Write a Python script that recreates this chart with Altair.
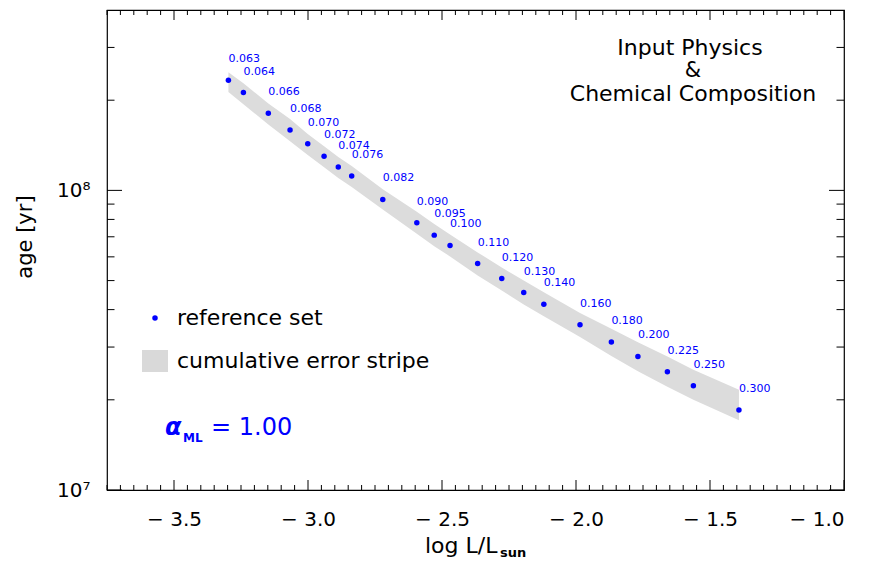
import altair as alt
import pandas as pd

# ---- data ----
masses = ["0.063", "0.064", "0.066", "0.068", "0.070", "0.072", "0.074", "0.076",
          "0.082", "0.090", "0.095", "0.100", "0.110", "0.120", "0.130", "0.140",
          "0.160", "0.180", "0.200", "0.225", "0.250", "0.300"]
log_l = [-3.297, -3.241, -3.148, -3.067, -3.001, -2.940, -2.887, -2.837,
         -2.721, -2.594, -2.529, -2.470, -2.367, -2.277, -2.195, -2.120,
         -1.985, -1.868, -1.769, -1.659, -1.562, -1.392]
age = [2.33e8, 2.12e8, 1.81e8, 1.59e8, 1.43e8, 1.30e8, 1.196e8, 1.116e8,
       9.33e7, 7.80e7, 7.09e7, 6.55e7, 5.70e7, 5.08e7, 4.56e7, 4.17e7,
       3.56e7, 3.12e7, 2.79e7, 2.48e7, 2.23e7, 1.85e7]
age_hi = [2.48e8, 2.28e8, 1.95e8, 1.73e8, 1.543e8, 1.403e8, 1.292e8, 1.206e8,
          1.008e8, 8.49e7, 7.72e7, 7.12e7, 6.21e7, 5.53e7, 5.00e7, 4.57e7,
          3.90e7, 3.45e7, 3.11e7, 2.79e7, 2.52e7, 2.16e7]
age_lo = [2.13e8, 1.94e8, 1.66e8, 1.46e8, 1.313e8, 1.194e8, 1.100e8, 1.026e8,
          8.64e7, 7.16e7, 6.51e7, 6.02e7, 5.20e7, 4.63e7, 4.16e7, 3.80e7,
          3.24e7, 2.80e7, 2.49e7, 2.21e7, 2.00e7, 1.71e7]

x_major = [-3.5, -3.0, -2.5, -2.0, -1.5, -1.0]
x_minor = [round(-3.75 + 0.05 * i, 2) for i in range(56)]
x_minor = [v for v in x_minor if v not in x_major]
y_major = [1e7, 1e8]
y_minor = [2e7, 3e7, 4e7, 5e7, 6e7, 7e7, 8e7, 9e7, 2e8, 3e8]

W, H = 737, 480
FONT = "DejaVu Sans"
BLUE = "#0000ff"

df = pd.DataFrame({"mass": masses, "logL": log_l, "age": age,
                   "hi": age_hi, "lo": age_lo})

xs = alt.Scale(domain=[-3.75, -1.0], nice=False, zero=False)
ys = alt.Scale(type="log", domain=[1e7, 4e8], nice=False)

xaxis = alt.Axis(values=x_major,
                 labelExpr="datum.value < 0 ? '\u2212 ' + format(-datum.value, '.1f') : format(datum.value, '.1f')",
                 ticks=False, tickSize=0, domain=False,
                 grid=False, labelFontSize=20, labelFont=FONT, labelColor="black",
                 labelPadding=19, title=None)
yaxis = alt.Axis(values=y_major, labelExpr="datum.value > 5e7 ? '10⁸' : '10⁷'",
                 ticks=False, tickSize=0, domain=False, grid=False,
                 labelFontSize=20, labelFont=FONT, labelColor="black",
                 labelPadding=17, title=None)


def X(field):
    return alt.X(field, type="quantitative", scale=xs, axis=xaxis)


def Y(field):
    return alt.Y(field, type="quantitative", scale=ys, axis=yaxis)


stripe = alt.Chart(df).mark_area(color="#dcdcdc", opacity=1).encode(
    x=X("logL"), y=Y("hi"), y2="lo")

points = alt.Chart(df).mark_circle(size=30, color=BLUE, opacity=1).encode(
    x=X("logL"), y=Y("age"))

labels = alt.Chart(df).mark_text(align="left", baseline="middle", dx=0, dy=-21,
                                 fontSize=11, font=FONT, color=BLUE).encode(
    x=X("logL"), y=Y("age"), text="mass")

# tick marks (inward, IDL style)
xmaj = pd.DataFrame({"v": x_major})
xmin = pd.DataFrame({"v": x_minor})
ymaj = pd.DataFrame({"v": y_major})
ymin = pd.DataFrame({"v": y_minor})
tk = dict(color="black", strokeWidth=1)

ticks = [
    alt.Chart(xmaj).mark_rule(**tk).encode(x=X("v"), y=alt.value(H), y2=alt.value(H - 10)),
    alt.Chart(xmaj).mark_rule(**tk).encode(x=X("v"), y=alt.value(0), y2=alt.value(10)),
    alt.Chart(xmin).mark_rule(**tk).encode(x=X("v"), y=alt.value(H), y2=alt.value(H - 5)),
    alt.Chart(xmin).mark_rule(**tk).encode(x=X("v"), y=alt.value(0), y2=alt.value(5)),
    alt.Chart(ymaj).mark_rule(**tk).encode(y=Y("v"), x=alt.value(0), x2=alt.value(15)),
    alt.Chart(ymaj).mark_rule(**tk).encode(y=Y("v"), x=alt.value(W), x2=alt.value(W - 15)),
    alt.Chart(ymin).mark_rule(**tk).encode(y=Y("v"), x=alt.value(0), x2=alt.value(7.5)),
    alt.Chart(ymin).mark_rule(**tk).encode(y=Y("v"), x=alt.value(W), x2=alt.value(W - 7.5)),
]

one = pd.DataFrame({"a": [0]})


def txt(text, x, y, size=20, align="left", color="black", **kw):
    return alt.Chart(one).mark_text(text=text, align=align, baseline="middle",
                                    fontSize=size, font=FONT, color=color, **kw).encode(
        x=alt.value(x), y=alt.value(y))


annots = [
    txt("Input Physics", 583, 38, 22, "center"),
    txt("&", 586, 61, 21, "center"),
    txt("Chemical Composition", 586, 84, 22, "center"),
    alt.Chart(one).mark_circle(size=30, color=BLUE, opacity=1).encode(
        x=alt.value(48), y=alt.value(308)),
    txt("reference set", 70, 308, 22),
    alt.Chart(one).mark_rect(color="#d9d9d9").encode(
        x=alt.value(35), x2=alt.value(61), y=alt.value(340), y2=alt.value(362)),
    txt("cumulative error stripe", 70, 351, 22),
    txt("α", 58, 418, 24, color=BLUE, fontWeight="bold", fontStyle="italic"),
    txt("ML", 76, 428, 12, color=BLUE, fontWeight="bold"),
    txt("=  1.00", 104, 418, 24, color=BLUE),
    txt("log L/L", 318, 536, 22),
    txt("sun", 393, 543, 13, fontWeight="bold"),
    txt("age [yr]", -81, 227, 21, "center", angle=270),
]

chart = alt.layer(stripe, points, labels, *ticks, *annots).properties(
    width=W, height=H,
    autosize=alt.AutoSizeParams(type="none"),
    padding={"left": 99, "top": 2, "right": 18, "bottom": 70},
    background="white",
).configure_view(stroke="black", strokeWidth=1.2)

chart.save("out.html", embed_options={"renderer": "svg", "actions": False})
